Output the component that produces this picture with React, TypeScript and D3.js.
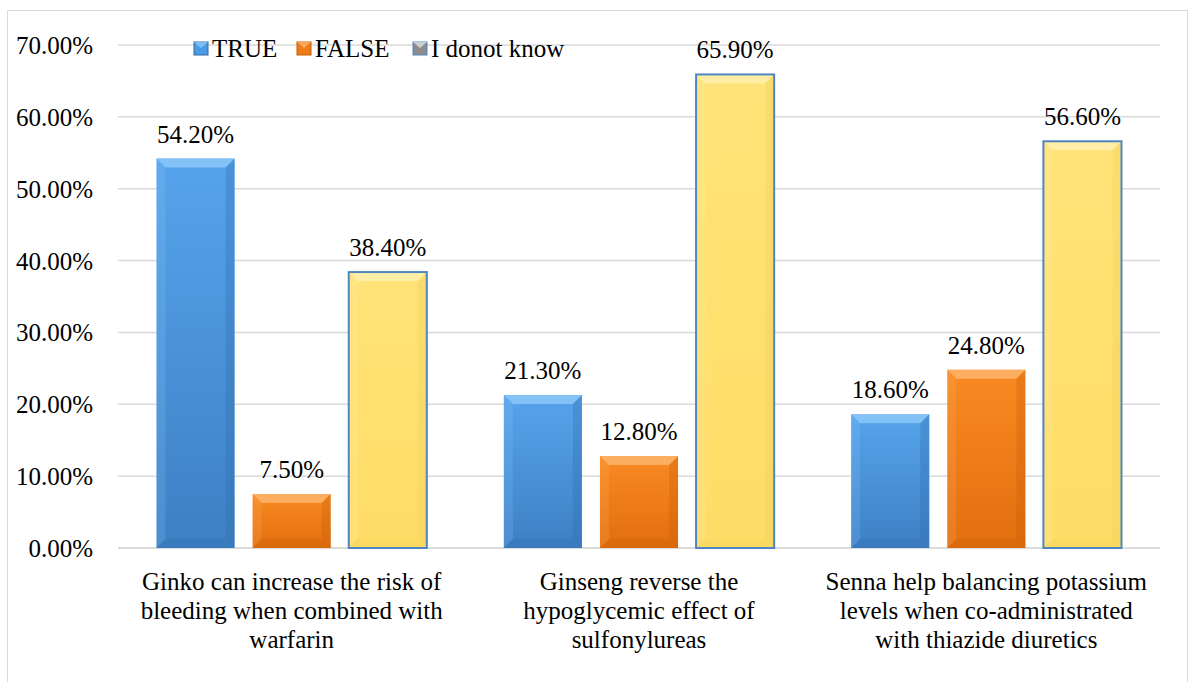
import React from "react";
import * as d3 from "d3";

const categories: string[][] = [
  ["Ginko can increase the risk of", "bleeding when combined with", "warfarin"],
  ["Ginseng reverse the", "hypoglycemic effect of", "sulfonylureas"],
  ["Senna help balancing potassium", "levels when co-administrated", "with thiazide diuretics"],
];
const seriesNames = ["TRUE", "FALSE", "I donot know"];
const trueVals = [54.2, 21.3, 18.6];
const falseVals = [7.5, 12.8, 24.8];
const dontKnowVals = [38.4, 65.9, 56.6];
const yTicks = [0, 10, 20, 30, 40, 50, 60, 70];

const W = 1190;
const H = 682;
const FONT = "Liberation Serif, Tinos, DejaVu Serif, Times New Roman, serif";
const textStyle: React.CSSProperties = { fontFamily: FONT, fontSize: "25px" };

const styles = [
  { id: "gBlue", top: "#56a4ec", bottom: "#3d80c4", light: "#8cc8f8", dark: "#2f6aa8", stroke: "none" },
  { id: "gOrange", top: "#f98a22", bottom: "#e26e0e", light: "#fdb46a", dark: "#c45d08", stroke: "none" },
  { id: "gYellow", top: "#ffe378", bottom: "#ffdc66", light: "#fff1ae", dark: "#f0cc55", stroke: "#4f86c2" },
];

export default function App() {
  const margin = { left: 118, right: 1160, top: 45, bottom: 548 };
  const y = d3.scaleLinear().domain([0, 70]).range([margin.bottom, margin.top]);
  const x0 = d3
    .scaleBand<number>()
    .domain(categories.map((_, i) => i))
    .range([margin.left, margin.right])
    .padding(0);
  const inset = 38.5;
  const x1 = d3
    .scaleBand<number>()
    .domain([0, 1, 2])
    .range([inset, x0.bandwidth() - inset])
    .paddingInner(0.1875)
    .paddingOuter(0);
  const data = [trueVals, falseVals, dontKnowVals];
  const bev = 9;

  const bars: React.ReactNode[] = [];
  const labels: React.ReactNode[] = [];
  categories.forEach((_, ci) => {
    data.forEach((vals, si) => {
      const v = vals[ci];
      const bx = (x0(ci) ?? 0) + (x1(si) ?? 0);
      const bw = x1.bandwidth();
      const by = y(v);
      const bh = y(0) - by;
      const st = styles[si];
      const b = Math.min(bev, bh / 2);
      bars.push(
        <g key={`b${ci}-${si}`}>
          <rect x={bx} y={by} width={bw} height={bh} fill={`url(#${st.id})`} />
          <polygon
            points={`${bx},${by} ${bx + bw},${by} ${bx + bw - b},${by + b} ${bx + b},${by + b}`}
            fill={st.light}
            opacity={0.85}
          />
          <polygon
            points={`${bx},${by} ${bx + b},${by + b} ${bx + b},${by + bh - b} ${bx},${by + bh}`}
            fill={st.light}
            opacity={0.2}
          />
          <polygon
            points={`${bx + bw},${by} ${bx + bw - b},${by + b} ${bx + bw - b},${by + bh - b} ${bx + bw},${by + bh}`}
            fill={st.dark}
            opacity={0.3}
          />
          <polygon
            points={`${bx},${by + bh} ${bx + b},${by + bh - b} ${bx + bw - b},${by + bh - b} ${bx + bw},${by + bh}`}
            fill={st.dark}
            opacity={0.25}
          />
          {st.stroke !== "none" && (
            <rect x={bx} y={by} width={bw} height={bh} fill="none" stroke={st.stroke} strokeWidth={2} />
          )}
        </g>
      );
      labels.push(
        <text key={`l${ci}-${si}`} x={bx + bw / 2} y={by - 16} textAnchor="middle" style={textStyle} fill="#000">
          {v.toFixed(2)}%
        </text>
      );
    });
  });

  const legendItems = [
    { x: 194, fill: "#4a9ae6", light: "#8cc8f8", stroke: "#2f6aa8" },
    { x: 297, fill: "#ee7a18", light: "#fdb46a", stroke: "#c45d08" },
    { x: 413, fill: "#8c8c8c", light: "#e0e0e0", stroke: "#4f86c2" },
  ];

  return (
    <svg width={W} height={H} style={{ position: "absolute", left: 0, top: 0 }}>
      <defs>
        {styles.map((s) => (
          <linearGradient key={s.id} id={s.id} x1="0" y1="0" x2="0" y2="1">
            <stop offset="0%" stopColor={s.top} />
            <stop offset="100%" stopColor={s.bottom} />
          </linearGradient>
        ))}
      </defs>
      <rect x={0} y={0} width={W} height={H} fill="#fff" />
      <rect x={7.5} y={10.5} width={1180} height={680} fill="none" stroke="#d9d9d9" strokeWidth={1} />
      {yTicks.map((t) => (
        <g key={t}>
          <line
            x1={margin.left}
            x2={margin.right}
            y1={y(t)}
            y2={y(t)}
            stroke={t === 0 ? "#cfcfcf" : "#d9d9d9"}
            strokeWidth={1.5}
          />
          <text x={93} y={y(t) + 9} textAnchor="end" style={textStyle} fill="#000">
            {t.toFixed(2)}%
          </text>
        </g>
      ))}
      {bars}
      {labels}
      {categories.map((lines, ci) => (
        <text key={`c${ci}`} textAnchor="middle" style={textStyle} fill="#000">
          {lines.map((ln, li) => (
            <tspan key={li} x={(x0(ci) ?? 0) + x0.bandwidth() / 2} y={590 + li * 29}>
              {ln}
            </tspan>
          ))}
        </text>
      ))}
      <g>
        {seriesNames.map((name, i) => {
          const it = legendItems[i];
          const sx = it.x;
          return (
            <g key={name}>
              <rect x={sx} y={42} width={14} height={13} fill={it.fill} stroke={it.stroke} strokeWidth={1} />
              <polygon points={`${sx},${42} ${sx + 14},${42} ${sx + 7},${48}`} fill={it.light} opacity={0.8} />
              <text x={sx + 18} y={57} style={textStyle} fill="#000">
                {name}
              </text>
            </g>
          );
        })}
      </g>
    </svg>
  );
}
